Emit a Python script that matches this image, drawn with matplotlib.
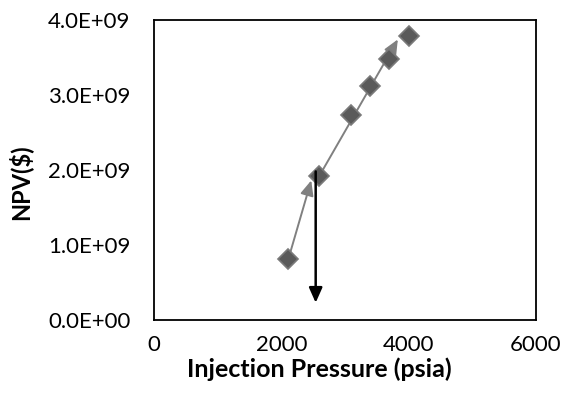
import matplotlib

matplotlib.use("Agg")
import matplotlib.pyplot as plt

# NPV vs. injection pressure cases
pressure = [2110, 2597, 3094, 3393, 3696, 4010]
npv = [0.81e9, 1.92e9, 2.73e9, 3.12e9, 3.48e9, 3.79e9]

# trend arrows drawn over the cases (start -> end)
trend_x = [(2110, 2470), (2597, 3830)]
trend_y = [(0.81e9, 1.86e9), (1.92e9, 3.74e9)]

# downward pointer from the 2550 psia case
drop_x = 2540
drop_y = (1.98e9, 0.23e9)

xticks = [0, 2000, 4000, 6000]
yticks = [0, 1e9, 2e9, 3e9, 4e9]

plt.rcParams["font.family"] = ["Lato", "DejaVu Sans"]

fig = plt.figure(figsize=(5.66, 3.98), dpi=100)
ax = fig.add_axes([0.272, 0.196, 0.675, 0.754])

for (x0, x1), (y0, y1) in zip(trend_x, trend_y):
    ax.annotate("", xy=(x1, y1), xytext=(x0, y0),
                arrowprops=dict(arrowstyle="-|>,head_length=0.9,head_width=0.4",
                                color="#808080", lw=1.4, shrinkA=0, shrinkB=0))

ax.plot(pressure, npv, ls="none", marker="D", ms=10.5, mfc="#5a5a5a",
        mec="#7a7a7a", mew=1.2, zorder=3)

ax.annotate("", xy=(drop_x, drop_y[1]), xytext=(drop_x, drop_y[0]),
            arrowprops=dict(arrowstyle="-|>,head_length=0.9,head_width=0.4",
                            color="black", lw=1.8, shrinkA=0, shrinkB=0),
            zorder=4)

ax.set_xlim(0, 6000)
ax.set_ylim(0, 4e9)
ax.set_xticks(xticks)
ax.set_yticks(yticks)
ax.set_xticklabels([str(v) for v in xticks])
ax.set_yticklabels([f"{v / 1e9:.1f}E+09" if v else "0.0E+00" for v in yticks])
ax.tick_params(length=0, labelsize=16, colors="black")
ax.tick_params(axis="y", pad=17)
ax.tick_params(axis="x", pad=11)
for s in ax.spines.values():
    s.set_linewidth(1.3)
    s.set_color("black")

ax.set_xlabel("Injection Pressure (psia)", fontsize=18, fontweight="bold")
ax.xaxis.set_label_coords(0.433, -0.125)
ax.set_ylabel("NPV($)", fontsize=17, fontweight="bold")
ax.yaxis.set_label_coords(-0.318, 0.46)

fig.savefig("out.png", dpi=100)
